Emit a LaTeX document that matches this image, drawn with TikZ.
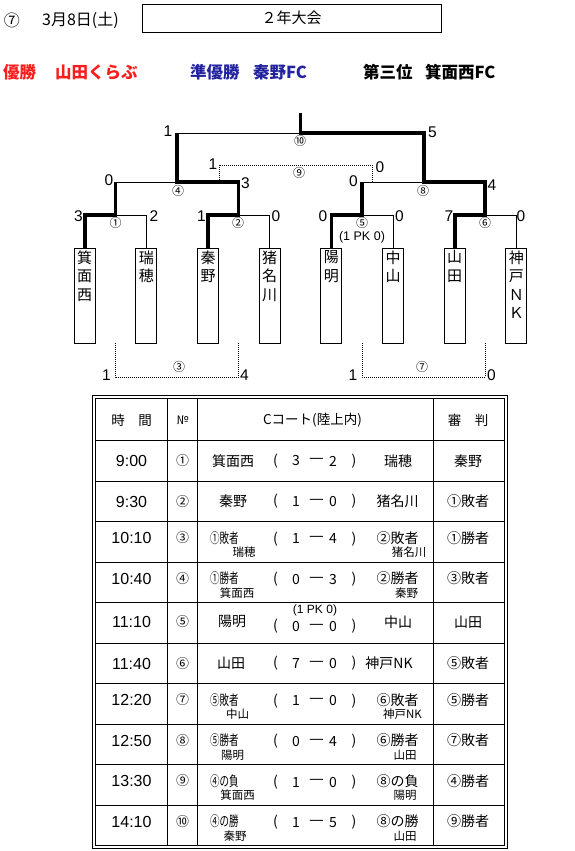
\documentclass[tikz,border=0pt]{standalone}
\usepackage{fontspec}
\setmainfont{Noto Sans CJK JP}
\newfontfamily\arialf{Liberation Sans}
\newfontfamily\narrowf[FakeStretch=0.68]{Noto Sans CJK JP}
\definecolor{winred}{RGB}{250,30,30}
\definecolor{winblue}{RGB}{35,35,160}
\newcommand\rowbase[8]{%
  \node[timef] (tm#1) at (131.5,#2) {#3};
  \node[cellno] (no#1) at (182.7,#2) {#4};
  \node[cell] (lp#1) at (275.5,#8) {(};
  \node[cell] (sa#1) at (296,#8) {#5};
  \node[dashf] (da#1) at (316.5,#8) {—};
  \node[cell] (sb#1) at (333,#8) {#6};
  \node[cell] (rp#1) at (354,#8) {)};
  \node[cell] (rf#1) at (468,#2) {#7};
}
\begin{document}
\begin{tikzpicture}[x=1pt,y=-1pt,
  thinl/.style={line width=0.8pt},
  thickl/.style={line width=3.6pt},
  dotl/.style={line width=0.7pt, dash pattern=on 0.8pt off 1.2pt},
  teambox/.style={draw, line width=0.8pt, minimum width=21pt, minimum height=95pt, inner sep=0pt},
  tname/.style={font=\fontsize{15}{18.5}\selectfont, align=center, inner sep=0pt, anchor=north},
  score/.style={font=\arialf\fontsize{15.5}{15.5}\selectfont, inner sep=0pt},
  mno/.style={font=\fontsize{12}{12}\selectfont, inner sep=0pt},
  cell/.style={font=\fontsize{14}{14}\selectfont, inner sep=0pt},
  cellno/.style={font=\fontsize{13}{13}\selectfont, inner sep=0pt},
  dashf/.style={font=\fontsize{16.5}{16.5}\selectfont, inner sep=0pt},
  narrowc/.style={font=\narrowf\fontsize{14}{14}\selectfont, inner sep=0pt, anchor=west},
  subl/.style={font=\fontsize{11.5}{11.5}\selectfont, inner sep=0pt},
  timef/.style={font=\arialf\fontsize{16}{16}\selectfont, inner sep=0pt},
  hdr/.style={font=\fontsize{13.5}{13.5}\selectfont, inner sep=0pt},
  award/.style={font=\bfseries\fontsize{16.5}{16.5}\selectfont, inner sep=0pt, anchor=west},
  pk/.style={font=\arialf\fontsize{12.5}{12.5}\selectfont, inner sep=0pt},
  pkt/.style={font=\arialf\fontsize{12}{12}\selectfont, inner sep=0pt},
  tline/.style={line width=0.8pt}
]
\useasboundingbox (0,0) rectangle (574,851);

% ---------- header ----------
\node[font=\fontsize{16}{16}\selectfont, inner sep=0pt] (hno) at (12,20) {⑦};
\node[font=\fontsize{16}{16}\selectfont, inner sep=0pt] (hdate) at (80.5,20) {3月8日(土)};
\node[draw, line width=0.8pt, minimum width=299pt, minimum height=27.5pt, inner sep=0pt,
      font=\fontsize{15}{15}\selectfont] (title) at (291.5,18.25) {２年大会};

\node[award, text=winred] (a1) at (3,72) {優勝};
\node[award, text=winred] (a2) at (55,72) {山田くらぶ};
\node[award, text=winblue] (a3) at (190,72) {準優勝};
\node[award, text=winblue] (a4) at (253,72) {秦野FC};
\node[award] (a5) at (363,72) {第三位};
\node[award] (a6) at (425,72) {箕面西FC};

% ---------- team boxes ----------
\node[teambox] (t1) at (84.7,295.5) {};
\node[teambox] (t2) at (146.3,295.5) {};
\node[teambox] (t3) at (208,295.5) {};
\node[teambox] (t4) at (269.7,295.5) {};
\node[teambox] (t5) at (331.3,295.5) {};
\node[teambox] (t6) at (393,295.5) {};
\node[teambox] (t7) at (454.7,295.5) {};
\node[teambox] (t8) at (516.3,295.5) {};
\node[tname] (n1) at (84.7,250.5) {箕\\面\\西};
\node[tname] (n2) at (146.3,250.5) {瑞\\穂};
\node[tname] (n3) at (208,250.5) {秦\\野};
\node[tname] (n4) at (269.7,250.5) {猪\\名\\川};
\node[tname] (n5) at (331.3,250.5) {陽\\明};
\node[tname] (n6) at (393,250.5) {中\\山};
\node[tname] (n7) at (454.7,250.5) {山\\田};
\node[tname] (n8) at (516.3,250.5) {神\\戸\\Ｎ\\Ｋ};

% ---------- bracket coordinates ----------
\coordinate (m1) at (115.5,215);
\coordinate (m2) at (238.5,215);
\coordinate (m5) at (362.15,215);
\coordinate (m6) at (485.2,215);
\coordinate (m4) at (177.2,182);
\coordinate (m8) at (423.8,182);
\coordinate (m10) at (300.5,133);
\coordinate (champ) at (300.5,113);

% thin lines
\draw[thinl] (m1) -| (t2.north);
\draw[thinl] (m2) -| (t4.north);
\draw[thinl] (m5) -| (t6.north);
\draw[thinl] (m6) -| (t8.north);
\draw[thinl] (m1 |- m4) -- (m4);
\draw[thinl] (m5 |- m8) -- (m8);
\draw[thinl] (m4 |- m10) -- (m10);
% thick winner paths
\draw[thickl] (t1.north) |- (m1) -- (m1 |- m4);
\draw[thickl] (t3.north) |- (m2) -- (m2 |- m4) -- (m4) -- (m4 |- m10);
\draw[thickl] (t5.north) |- (m5) -- (m5 |- m8);
\draw[thickl] (t7.north) |- (m6) -- (m6 |- m8) -- (m8) -- (m8 |- m10) -- (m10) -- (champ);

% dotted third-place and consolation brackets
\coordinate (n9l) at (219,182);
\coordinate (n9a) at (219,165);
\coordinate (n9b) at (372,165);
\coordinate (n9r) at (372,182);
\draw[dotl] (n9l) -- (n9a) -- (n9b) -- (n9r);
\coordinate (d3a) at (115.5,343);
\coordinate (d3b) at (115.5,377);
\coordinate (d3c) at (238.5,377);
\coordinate (d3d) at (238.5,343);
\draw[dotl] (d3a) -- (d3b) -- (d3c) -- (d3d);
\coordinate (d7a) at (362.15,343);
\coordinate (d7b) at (362.15,377);
\coordinate (d7c) at (485.2,377);
\coordinate (d7d) at (485.2,343);
\draw[dotl] (d7a) -- (d7b) -- (d7c) -- (d7d);

% match numbers
\node[mno] (c1) at (115.5,223) {①};
\node[mno] (c2) at (238,223) {②};
\node[mno] (c5) at (362,223) {⑤};
\node[mno] (c6) at (485,223) {⑥};
\node[mno] (c4) at (178,190.5) {④};
\node[mno] (c8) at (423,190.5) {⑧};
\node[mno] (c10) at (300,141) {⑩};
\node[mno] (c9) at (299,173) {⑨};
\node[mno] (c3) at (179,367) {③};
\node[mno] (c7) at (422,367) {⑦};
\node[pk] (pkb) at (362,237) {(1 PK 0)};

% scores
\node[score] (s1a) at (78.5,216) {3};
\node[score] (s1b) at (154,216) {2};
\node[score] (s2a) at (201.5,216) {1};
\node[score] (s2b) at (276,216) {0};
\node[score] (s5a) at (323,216) {0};
\node[score] (s5b) at (399.5,216) {0};
\node[score] (s6a) at (449,216) {7};
\node[score] (s6b) at (521,216) {0};
\node[score] (s4a) at (109,180) {0};
\node[score] (s4b) at (245.5,183) {3};
\node[score] (s8a) at (353.5,181) {0};
\node[score] (s8b) at (492,185) {4};
\node[score] (s10a) at (168,131) {1};
\node[score] (s10b) at (432.5,132) {5};
\node[score] (s9a) at (213,164) {1};
\node[score] (s9b) at (380,167) {0};
\node[score] (s3a) at (106.5,375.5) {1};
\node[score] (s3b) at (244.5,375.5) {4};
\node[score] (s7a) at (353,375.5) {1};
\node[score] (s7b) at (491.5,375.5) {0};

% ---------- table ----------
\draw[tline] (92.5,395.5) rectangle (507.5,848.7);
\draw[tline] (95.5,398.5) rectangle (504.5,845.7);
\foreach \k in {0,...,9} {
  \draw[tline] (95.5,{440.7+40.5*\k}) -- (504.5,{440.7+40.5*\k});
}
\foreach \cx in {167.7,197.7,433.3} {
  \draw[tline] (\cx,398.5) -- (\cx,845.7);
}
\node[hdr] (h1) at (131.5,420) {時　間};
\node[font=\fontsize{12}{12}\selectfont, inner sep=0pt] (h2) at (182.7,420) {№};
\node[hdr] (h3) at (312.5,420) {Cコート(陸上内)};
\node[hdr] (h4) at (468,420) {審　判};

% row 1
\rowbase{1}{461}{9:00}{①}{3}{2}{秦野}{461}
\node[cell] (ta1) at (233,461) {箕面西};
\node[cell] (tb1) at (398,461) {瑞穂};
% row 2
\rowbase{2}{501.5}{9:30}{②}{1}{0}{①敗者}{501.5}
\node[cell] (ta2) at (233,501.5) {秦野};
\node[cell] (tb2) at (397.5,501.5) {猪名川};
% row 3
\rowbase{3}{538}{10:10}{③}{1}{4}{①勝者}{539}
\node[narrowc] (ta3) at (210,538) {①敗者};
\node[cell] (tb3) at (397.5,538) {②敗者};
\node[subl] (ua3) at (244,552.5) {瑞穂};
\node[subl] (ub3) at (409,552.5) {猪名川};
% row 4
\rowbase{4}{578.5}{10:40}{④}{0}{3}{③敗者}{579.5}
\node[narrowc] (ta4) at (210,578.5) {①勝者};
\node[cell] (tb4) at (397.5,578.5) {②勝者};
\node[subl] (ua4) at (237,593) {箕面西};
\node[subl] (ub4) at (406.5,593) {秦野};
% row 5
\rowbase{5}{622}{11:10}{⑤}{0}{0}{山田}{626.5}
\node[cell] (ta5) at (232,622) {陽明};
\node[cell] (tb5) at (398,622) {中山};
\node[pkt] (pkt) at (315,610) {(1 PK 0)};
% row 6
\rowbase{6}{663.5}{11:40}{⑥}{7}{0}{⑤敗者}{663.5}
\node[cell] (ta6) at (231,663.5) {山田};
\node[cell] (tb6) at (389,663.5) {神戸NK};
% row 7
\rowbase{7}{700}{12:20}{⑦}{1}{0}{⑤勝者}{701}
\node[narrowc] (ta7) at (210,700) {⑤敗者};
\node[cell] (tb7) at (397.5,700) {⑥敗者};
\node[subl] (ua7) at (237.5,714.5) {中山};
\node[subl] (ub7) at (402.5,714.5) {神戸NK};
% row 8
\rowbase{8}{740.5}{12:50}{⑧}{0}{4}{⑦敗者}{741.5}
\node[narrowc] (ta8) at (210,740.5) {⑤勝者};
\node[cell] (tb8) at (397.5,740.5) {⑥勝者};
\node[subl] (ua8) at (232.5,755) {陽明};
\node[subl] (ub8) at (405,755) {山田};
% row 9
\rowbase{9}{781}{13:30}{⑨}{1}{0}{④勝者}{782}
\node[narrowc] (ta9) at (210,781) {④の負};
\node[cell] (tb9) at (397.5,781) {⑧の負};
\node[subl] (ua9) at (237.5,795.5) {箕面西};
\node[subl] (ub9) at (405,795.5) {陽明};
% row 10
\rowbase{10}{821.5}{14:10}{⑩}{1}{5}{⑨勝者}{822.5}
\node[narrowc] (ta10) at (210,821.5) {④の勝};
\node[cell] (tb10) at (397.5,821.5) {⑧の勝};
\node[subl] (ua10) at (235,836) {秦野};
\node[subl] (ub10) at (405,836) {山田};
\end{tikzpicture}
\end{document}
